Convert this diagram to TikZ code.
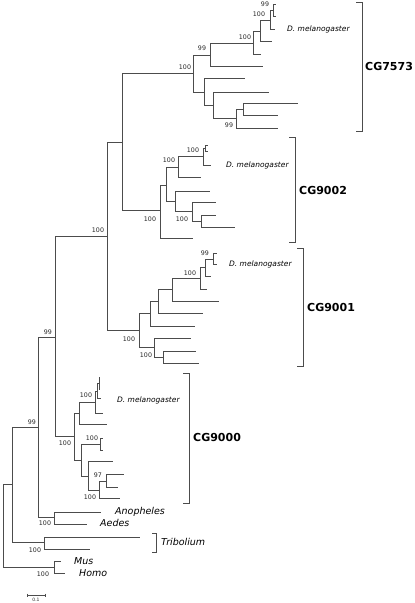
\documentclass[tikz,border=0pt]{standalone}
\usepackage{fontspec}
\setmainfont{DejaVu Sans}
\usepackage{tikz}
\tikzstyle{branch} = [draw=black!70, line width=0.7pt]
\tikzstyle{bracket} = [draw=black!70, line width=0.7pt]
\tikzstyle{boot} = [font=\fontsize{6.3}{7}\selectfont, inner sep=0pt, text=black!85]
\tikzstyle{taxon} = [font=\fontsize{9.5}{11}\selectfont\itshape, anchor=west, inner sep=0pt]
\tikzstyle{dmel} = [font=\fontsize{7.5}{9}\selectfont\itshape, anchor=west, inner sep=0pt]
\tikzstyle{gene} = [font=\fontsize{11}{13}\selectfont\bfseries, anchor=west, inner sep=0pt]

\begin{document}
\begin{tikzpicture}[x=1pt, y=-1pt]
\useasboundingbox (0,0) rectangle (415,603);
% inner nodes of the tree
\coordinate (r) at (3,525);
\coordinate (mh) at (54,567);
\coordinate (i1) at (12,484);
\coordinate (trib) at (44,542);
\coordinate (i2) at (38,427);
\coordinate (mosq) at (54,517);
\coordinate (i3) at (55,337);
\coordinate (a) at (107,236);
\coordinate (b) at (122,142);
\coordinate (g7573) at (193,73);
\coordinate (p99) at (210,55);
\coordinate (d1) at (253,43);
\coordinate (d2) at (260,31);
\coordinate (d3) at (270,20);
\coordinate (d4) at (273,10);
\coordinate (c1) at (204,92);
\coordinate (c2) at (213,105);
\coordinate (c3) at (236,118);
\coordinate (c4) at (243,109);
\coordinate (g9002) at (160,210);
\coordinate (e2) at (166,185);
\coordinate (e3) at (178,167);
\coordinate (e5) at (203,156);
\coordinate (e6) at (205,148);
\coordinate (e4) at (175,201);
\coordinate (e7) at (192,211);
\coordinate (e8) at (201,221);
\coordinate (g9001) at (139,330);
\coordinate (f1) at (150,313);
\coordinate (f2) at (158,301);
\coordinate (f3) at (172,289);
\coordinate (f4) at (200,278);
\coordinate (f5) at (205,267);
\coordinate (f6) at (213,259);
\coordinate (f7) at (154,347);
\coordinate (f8) at (163,357);
\coordinate (g9000) at (74,436);
\coordinate (h1) at (79,413);
\coordinate (h2) at (95,402);
\coordinate (h3) at (97,391);
\coordinate (h4) at (99,383);
\coordinate (h5) at (81,460);
\coordinate (h6) at (100,444);
\coordinate (h7) at (88,476);
\coordinate (h8) at (99,490);
\coordinate (h9) at (106,481);
% leaves
\coordinate (mus) at (61,561);
\coordinate (homo) at (65,573);
\coordinate (tr1) at (140,537);
\coordinate (tr2) at (90,549);
\coordinate (ano) at (101,512);
\coordinate (aed) at (87,524);
\coordinate (t1) at (263,66);
\coordinate (t2) at (261,54);
\coordinate (t3) at (272,41);
\coordinate (t4) at (275,29);
\coordinate (t5) at (276,4);
\coordinate (t6) at (276,16);
\coordinate (t7) at (245,78);
\coordinate (t8) at (269,92);
\coordinate (t9) at (278,128);
\coordinate (t10) at (298,103);
\coordinate (t11) at (278,115);
\coordinate (u1) at (193,238);
\coordinate (u2) at (201,177);
\coordinate (u3) at (211,165);
\coordinate (u4) at (208,145);
\coordinate (u5) at (208,151);
\coordinate (u6) at (210,191);
\coordinate (u7) at (216,202);
\coordinate (u8) at (216,215);
\coordinate (u9) at (235,227);
\coordinate (v1) at (195,326);
\coordinate (v2) at (203,313);
\coordinate (v3) at (219,301);
\coordinate (v4) at (207,289);
\coordinate (v5) at (211,276);
\coordinate (v6) at (217,253);
\coordinate (v7) at (217,264);
\coordinate (v8) at (191,338);
\coordinate (v9) at (196,351);
\coordinate (v10) at (199,363);
\coordinate (w1) at (107,424);
\coordinate (w2) at (103,413);
\coordinate (w3) at (101,398);
\coordinate (w4) at (100,377);
\coordinate (w5) at (100,389);
\coordinate (w6) at (103,438);
\coordinate (w7) at (103,450);
\coordinate (w8) at (113,461);
\coordinate (w9) at (120,498);
\coordinate (w10) at (124,474);
\coordinate (w11) at (118,487);

% branches
\draw[branch] (r) |- (i1) (r) |- (mh);
\draw[branch] (mh) |- (mus) (mh) |- (homo);
\draw[branch] (i1) |- (i2) (i1) |- (trib);
\draw[branch] (trib) |- (tr1) (trib) |- (tr2);
\draw[branch] (i2) |- (i3) (i2) |- (mosq);
\draw[branch] (mosq) |- (ano) (mosq) |- (aed);
\draw[branch] (i3) |- (a) (i3) |- (g9000);
\draw[branch] (a) |- (b) (a) |- (g9001);
\draw[branch] (b) |- (g7573) (b) |- (g9002);
\draw[branch] (g7573) |- (p99) (g7573) |- (c1);
\draw[branch] (p99) |- (d1) (p99) |- (t1);
\draw[branch] (d1) |- (d2) (d1) |- (t2);
\draw[branch] (d2) |- (d3) (d2) |- (t3);
\draw[branch] (d3) |- (d4) (d3) |- (t4);
\draw[branch] (d4) |- (t5) (d4) |- (t6);
\draw[branch] (c1) |- (t7) (c1) |- (c2);
\draw[branch] (c2) |- (t8) (c2) |- (c3);
\draw[branch] (c3) |- (c4) (c3) |- (t9);
\draw[branch] (c4) |- (t10) (c4) |- (t11);
\draw[branch] (g9002) |- (e2) (g9002) |- (u1);
\draw[branch] (e2) |- (e3) (e2) |- (e4);
\draw[branch] (e3) |- (e5) (e3) |- (u2);
\draw[branch] (e5) |- (e6) (e5) |- (u3);
\draw[branch] (e6) |- (u4) (e6) |- (u5);
\draw[branch] (e4) |- (u6) (e4) |- (e7);
\draw[branch] (e7) |- (u7) (e7) |- (e8);
\draw[branch] (e8) |- (u8) (e8) |- (u9);
\draw[branch] (g9001) |- (f1) (g9001) |- (f7);
\draw[branch] (f1) |- (f2) (f1) |- (v1);
\draw[branch] (f2) |- (f3) (f2) |- (v2);
\draw[branch] (f3) |- (f4) (f3) |- (v3);
\draw[branch] (f4) |- (f5) (f4) |- (v4);
\draw[branch] (f5) |- (f6) (f5) |- (v5);
\draw[branch] (f6) |- (v6) (f6) |- (v7);
\draw[branch] (f7) |- (v8) (f7) |- (f8);
\draw[branch] (f8) |- (v9) (f8) |- (v10);
\draw[branch] (g9000) |- (h1) (g9000) |- (h5);
\draw[branch] (h1) |- (h2) (h1) |- (w1);
\draw[branch] (h2) |- (h3) (h2) |- (w2);
\draw[branch] (h3) |- (h4) (h3) |- (w3);
\draw[branch] (h4) |- (w4) (h4) |- (w5);
\draw[branch] (h5) |- (h6) (h5) |- (h7);
\draw[branch] (h6) |- (w6) (h6) |- (w7);
\draw[branch] (h7) |- (w8) (h7) |- (h8);
\draw[branch] (h8) |- (h9) (h8) |- (w9);
\draw[branch] (h9) |- (w10) (h9) |- (w11);

% bootstrap values
\node (bs-g7573) at (185,67) [boot] {100};
\node (bs-p99) at (202,48) [boot] {99};
\node (bs-d1) at (245,37) [boot] {100};
\node (bs-d3) at (259,14) [boot] {100};
\node (bs-d4) at (265,4) [boot] {99};
\node (bs-c3) at (229,125) [boot] {99};
\node (bs-a) at (98,230) [boot] {100};
\node (bs-i3) at (48,332) [boot] {99};
\node (bs-i2) at (32,422) [boot] {99};
\node (bs-g9002) at (150,219) [boot] {100};
\node (bs-e3) at (169,160) [boot] {100};
\node (bs-e5) at (193,150) [boot] {100};
\node (bs-e7) at (182,219) [boot] {100};
\node (bs-g9001) at (129,339) [boot] {100};
\node (bs-f7) at (146,355) [boot] {100};
\node (bs-f4) at (190,273) [boot] {100};
\node (bs-f6) at (205,253) [boot] {99};
\node (bs-g9000) at (65,443) [boot] {100};
\node (bs-h2) at (86,395) [boot] {100};
\node (bs-h6) at (92,438) [boot] {100};
\node (bs-h9) at (98,475) [boot] {97};
\node (bs-h8) at (90,497) [boot] {100};
\node (bs-mosq) at (45,523) [boot] {100};
\node (bs-trib) at (35,550) [boot] {100};
\node (bs-mh) at (43,574) [boot] {100};

% taxa
\node (dm1) at (287,29) [dmel] {D. melanogaster};
\node (dm2) at (226,165) [dmel] {D. melanogaster};
\node (dm3) at (229,264) [dmel] {D. melanogaster};
\node (dm4) at (117,400) [dmel] {D. melanogaster};
\node (anopheles) at (115,512) [taxon] {Anopheles};
\node (aedes) at (100,523) [taxon] {Aedes};
\node (tribolium) at (161,542) [taxon] {Tribolium};
\node (musname) at (74,561) [taxon] {Mus};
\node (homoname) at (79,573) [taxon] {Homo};

% gene groups
\coordinate (k1t) at (362,2);
\coordinate (k1b) at (362,131);
\coordinate (k2t) at (295,137);
\coordinate (k2b) at (295,242);
\coordinate (k3t) at (303,248);
\coordinate (k3b) at (303,366);
\coordinate (k4t) at (189,373);
\coordinate (k4b) at (189,503);
\coordinate (k5t) at (156,533);
\coordinate (k5b) at (156,552);
\draw[bracket] ([xshift=-6pt]k1t) -- (k1t) -- (k1b) -- ([xshift=-6pt]k1b);
\draw[bracket] ([xshift=-6pt]k2t) -- (k2t) -- (k2b) -- ([xshift=-6pt]k2b);
\draw[bracket] ([xshift=-6pt]k3t) -- (k3t) -- (k3b) -- ([xshift=-6pt]k3b);
\draw[bracket] ([xshift=-6pt]k4t) -- (k4t) -- (k4b) -- ([xshift=-6pt]k4b);
\draw[bracket] ([xshift=-4pt]k5t) -- (k5t) -- (k5b) -- ([xshift=-4pt]k5b);
\node (cg7573) at (365,66) [gene] {CG7573};
\node (cg9002) at (299,190) [gene] {CG9002};
\node (cg9001) at (307,307) [gene] {CG9001};
\node (cg9000) at (193,437) [gene] {CG9000};

% scale bar
\coordinate (sb1) at (27,595);
\coordinate (sb2) at (45,595);
\draw[branch, line width=0.5pt] (sb1) -- (sb2);
\draw[branch, line width=0.5pt] ([yshift=1.5pt]sb1) -- ([yshift=-1.5pt]sb1) ([yshift=1.5pt]sb2) -- ([yshift=-1.5pt]sb2);
\node (sbtext) at (36,600) [boot, font=\fontsize{4.5}{5}\selectfont] {0.1};
\end{tikzpicture}
\end{document}
